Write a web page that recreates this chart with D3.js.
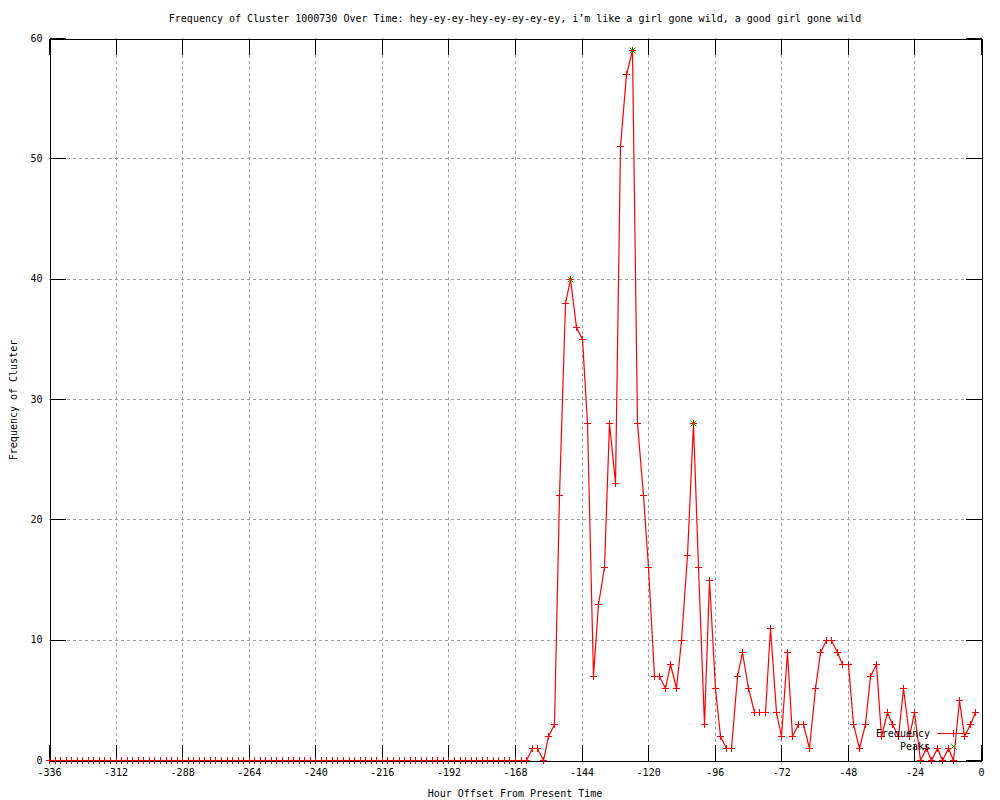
<!DOCTYPE html>
<html>
<head>
<meta charset="utf-8">
<script src="https://cdn.jsdelivr.net/npm/d3@7"></script>
<style>
  body { margin: 0; background: #fff; }
  text { font-family: "DejaVu Sans Mono", monospace; font-size: 10px; fill: #000; }
</style>
</head>
<body>
<div id="chart"></div>
<script>
const width = 1000;
const height = 800;
const lineRed = '#ff0000';
const peakGreen = '#00c000';
const gridGrey = '#a0a0a0';

// hours are every 2 hours from -336 up to -2
const hours = d3.range(-336, 0, 2);

// frequency values, -336 .. -166 are all zero, then the active part
const leadingZeros = 86;
const activeValues = [
    0, 1, 1, 0, 2, 3, 22, 38, 40, 36, 35, 28, 7, 13, 16, 28, 23, 51, 57, 59,
    28, 22, 16, 7, 7, 6, 8, 6, 10, 17, 28, 16, 3, 15, 6, 2, 1, 1, 7, 9,
    6, 4, 4, 4, 11, 4, 2, 9, 2, 3, 3, 1, 6, 9, 10, 10, 9, 8, 8, 3,
    1, 3, 7, 8, 2, 4, 3, 2, 6, 2, 4, 0, 1, 0, 1, 0, 1, 0, 5, 2,
    3, 4
];
const frequency = new Array(leadingZeros).fill(0).concat(activeValues);

const peakHours = [-148, -126, -104];
const peakValues = [40, 59, 28];

const xTicks = d3.range(-336, 1, 24);
const yTicks = [0, 10, 20, 30, 40, 50, 60];

const titleText = 'Frequency of Cluster 1000730 Over Time: hey-ey-ey-hey-ey-ey-ey-ey, i\u2019m like a girl gone wild, a good girl gone wild';

buildChart();

function buildChart() {
    const left = 49, right = 981, top = 38, bottom = 760;

    const svg = d3.select('#chart')
        .append('svg')
        .attr('width', width)
        .attr('height', height);

    const x = d3.scaleLinear().domain([-336, 0]).range([left, right]);
    const y = d3.scaleLinear().domain([0, 60]).range([bottom, top]);

    // Grid (inner lines only, the border covers the rest)
    const grid = svg.append('g')
        .attr('stroke', gridGrey)
        .attr('stroke-width', 1)
        .attr('stroke-dasharray', '3,3')
        .attr('shape-rendering', 'crispEdges');

    grid.selectAll('.vg')
        .data(xTicks.slice(1, -1))
        .enter()
        .append('line')
        .attr('x1', d => Math.round(x(d)) + 0.5)
        .attr('x2', d => Math.round(x(d)) + 0.5)
        .attr('y1', bottom)
        .attr('y2', top);

    grid.selectAll('.hg')
        .data(yTicks.slice(1, -1))
        .enter()
        .append('line')
        .attr('x1', left)
        .attr('x2', right)
        .attr('y1', d => Math.round(y(d)) + 0.5)
        .attr('y2', d => Math.round(y(d)) + 0.5);

    // Axes with inward ticks, mirrored on top and right
    const tickLen = 16;
    const xAxisBottom = d3.axisBottom(x).tickValues(xTicks).tickSizeInner(-tickLen).tickSizeOuter(0)
        .tickPadding(8).tickFormat(d => String(d));
    const xAxisTop = d3.axisTop(x).tickValues(xTicks).tickSizeInner(-tickLen).tickSizeOuter(0).tickFormat('');
    const yAxisLeft = d3.axisLeft(y).tickValues(yTicks).tickSizeInner(-tickLen).tickSizeOuter(0)
        .tickPadding(7).tickFormat(d => String(d));
    const yAxisRight = d3.axisRight(y).tickValues(yTicks).tickSizeInner(-tickLen).tickSizeOuter(0).tickFormat('');

    const axes = [
        svg.append('g').attr('transform', `translate(0,${bottom + 0.5})`).call(xAxisBottom),
        svg.append('g').attr('transform', `translate(0,${top + 0.5})`).call(xAxisTop),
        svg.append('g').attr('transform', `translate(${left + 0.5},0)`).call(yAxisLeft),
        svg.append('g').attr('transform', `translate(${right + 0.5},0)`).call(yAxisRight)
    ];
    axes.forEach(a => {
        a.attr('font-family', null).attr('font-size', null).attr('shape-rendering', 'crispEdges');
        a.select('.domain').attr('stroke', '#000');
        a.selectAll('line').attr('stroke', '#000');
    });

    // Frequency line
    const pts = hours.map((h, i) => ({h: h, v: frequency[i]}));

    const freqLine = d3.line()
        .x(d => Math.round(x(d.h)) + 0.5)
        .y(d => Math.round(y(d.v)) + 0.5);

    svg.append('path')
        .datum(pts)
        .attr('d', freqLine)
        .attr('fill', 'none')
        .attr('stroke', lineRed)
        .attr('stroke-width', 1.2);

    const plus = 'M-3.5,0H3.5M0,-3.5V3.5';
    const cross = 'M-3,-3L3,3M-3,3L3,-3';

    svg.append('g')
        .selectAll('path')
        .data(pts)
        .enter()
        .append('path')
        .attr('transform', d => `translate(${Math.round(x(d.h)) + 0.5},${Math.round(y(d.v)) + 0.5})`)
        .attr('d', plus)
        .attr('stroke', lineRed)
        .attr('stroke-width', 1)
        .attr('shape-rendering', 'crispEdges');

    // Peaks
    svg.append('g')
        .selectAll('path')
        .data(peakHours)
        .enter()
        .append('path')
        .attr('transform', (d, i) => `translate(${Math.round(x(d)) + 0.5},${Math.round(y(peakValues[i])) + 0.5})`)
        .attr('d', cross)
        .attr('stroke', peakGreen)
        .attr('stroke-width', 1);

    // Legend
    const lx = 930, ly1 = 733, ly2 = 746;
    svg.append('text').attr('x', lx).attr('y', ly1).attr('dy', '0.35em')
        .attr('text-anchor', 'end').text('Frequency');
    svg.append('line').attr('x1', 937).attr('x2', 970).attr('y1', ly1 + 0.5).attr('y2', ly1 + 0.5)
        .attr('stroke', lineRed).attr('shape-rendering', 'crispEdges');
    svg.append('path').attr('transform', `translate(953.5,${ly1 + 0.5})`).attr('d', plus)
        .attr('stroke', lineRed).attr('shape-rendering', 'crispEdges');
    svg.append('text').attr('x', lx).attr('y', ly2).attr('dy', '0.35em')
        .attr('text-anchor', 'end').text('Peaks');
    svg.append('path').attr('transform', `translate(953.5,${ly2 + 0.5})`).attr('d', cross)
        .attr('stroke', peakGreen);

    // Titles
    svg.append('text')
        .attr('x', (left + right) / 2)
        .attr('y', 22)
        .attr('text-anchor', 'middle')
        .text(titleText);

    svg.append('text')
        .attr('x', (left + right) / 2)
        .attr('y', 797)
        .attr('text-anchor', 'middle')
        .text('Hour Offset From Present Time');

    svg.append('text')
        .attr('transform', 'translate(17,400) rotate(-90)')
        .attr('text-anchor', 'middle')
        .text('Frequency of Cluster');
}
</script>
</body>
</html>
